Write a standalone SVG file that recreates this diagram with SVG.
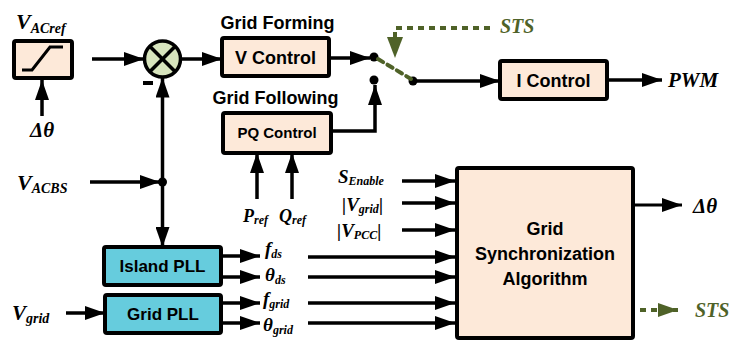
<svg xmlns="http://www.w3.org/2000/svg" width="732" height="340" viewBox="0 0 732 340">
<style>
.box{fill:#FDE9D9;stroke:#000;stroke-width:4}
.pll{fill:#66CCDD;stroke:#000;stroke-width:4}
.lbl{font-family:"Liberation Sans",Arial,sans-serif;font-weight:bold;fill:#000;text-anchor:middle}
.m{font-family:"Liberation Serif","Times New Roman",serif;font-weight:bold;font-style:italic;fill:#000}
.g{fill:#4F6228}
.w{stroke:#000;stroke-width:3.5;fill:none}
.wa{stroke:#000;stroke-width:3.5;fill:none;marker-end:url(#ah)}
.da{stroke:#4F6228;stroke-width:4;fill:none;stroke-dasharray:6 5}
</style>
<defs>
<marker id="ah" markerUnits="userSpaceOnUse" markerWidth="20" markerHeight="14" refX="20" refY="7" orient="auto">
<path d="M0,0 L20,7 L0,14 z" fill="#000"/>
</marker>
<marker id="ahg" markerUnits="userSpaceOnUse" markerWidth="20" markerHeight="14" refX="20" refY="7" orient="auto">
<path d="M0,0 L20,7 L0,14 z" fill="#4F6228"/>
</marker>
</defs>
<rect width="732" height="340" fill="#fff"/>

<g id="limiter">
<rect x="14" y="41" width="58" height="37" rx="2" class="box"/>
<polyline points="22,70 32,70 50,47 63,47" fill="none" stroke="#000" stroke-width="3"/>
</g>
<g id="sum">
<circle cx="162.5" cy="59" r="18" fill="#D7E4BD" stroke="#000" stroke-width="3.5"/>
<line x1="150" y1="46.5" x2="175" y2="71.5" stroke="#000" stroke-width="3.5"/>
<line x1="175" y1="46.5" x2="150" y2="71.5" stroke="#000" stroke-width="3.5"/>
<line x1="143" y1="83" x2="153" y2="83" stroke="#000" stroke-width="4"/>
</g>
<g id="vcontrol">
<rect x="222" y="38" width="107" height="38" rx="2" class="box"/>
<text x="275.5" y="64" class="lbl" font-size="18">V Control</text>
<text x="277.5" y="29" class="lbl" font-size="18">Grid Forming</text>
</g>
<g id="pqcontrol">
<rect x="223" y="113" width="108" height="40" rx="2" class="box"/>
<text x="277" y="138" class="lbl" font-size="15">PQ Control</text>
<text x="275.5" y="104" class="lbl" font-size="18">Grid Following</text>
</g>
<g id="switch">
<circle cx="374" cy="57" r="4.5" fill="#000"/>
<circle cx="374" cy="80" r="4.5" fill="#000"/>
<circle cx="413" cy="81" r="4.5" fill="#000"/>
</g>
<g id="icontrol">
<rect x="500" y="61" width="107" height="38" rx="2" class="box"/>
<text x="553.5" y="87" class="lbl" font-size="18">I Control</text>
</g>
<g id="islandpll">
<rect x="104" y="247" width="117" height="38" rx="2" class="pll"/>
<text x="162.5" y="272" class="lbl" font-size="17">Island PLL</text>
</g>
<g id="gridpll">
<rect x="105" y="295" width="116" height="38" rx="2" class="pll"/>
<text x="163" y="320" class="lbl" font-size="17">Grid PLL</text>
</g>
<g id="gsa">
<rect x="457" y="168" width="176" height="170" rx="2" class="box"/>
<text x="545" y="235" class="lbl" font-size="18">Grid</text>
<text x="545" y="260" class="lbl" font-size="18">Synchronization</text>
<text x="545" y="285" class="lbl" font-size="18">Algorithm</text>
</g>

<g id="connectors">
<line x1="42" y1="116" x2="42" y2="80" class="wa"/>
<line x1="92" y1="59" x2="144" y2="59" class="wa"/>
<line x1="181" y1="59" x2="222" y2="59" class="wa"/>
<line x1="329" y1="58" x2="370" y2="58" class="wa"/>
<line x1="162.5" y1="182" x2="162.5" y2="77.5" class="wa"/>
<line x1="162.5" y1="182" x2="162.5" y2="247" class="wa"/>
<line x1="90" y1="182" x2="160" y2="182" class="wa"/>
<circle cx="162.5" cy="182" r="4.5" fill="#000"/>
<line x1="66" y1="313" x2="105" y2="313" class="wa"/>
<polyline points="331,131 375,131 375,85" class="wa"/>
<line x1="257" y1="199" x2="257" y2="153" class="wa"/>
<line x1="292" y1="199" x2="292" y2="153" class="wa"/>
<line x1="413" y1="81" x2="500" y2="81" class="wa"/>
<line x1="607" y1="80" x2="662" y2="80" class="wa"/>
<line x1="378" y1="59" x2="411" y2="79" class="da" stroke-linecap="round"/>
<polyline points="490,28 395,28 395,38" class="da"/>
<polygon points="387,37 403,37 395,58" class="g"/>
<line x1="221" y1="256" x2="260" y2="256" class="wa"/>
<line x1="221" y1="277" x2="260" y2="277" class="wa"/>
<line x1="221" y1="303" x2="260" y2="303" class="wa"/>
<line x1="221" y1="323" x2="260" y2="323" class="wa"/>
<line x1="402" y1="181" x2="455" y2="181" class="wa"/>
<line x1="402" y1="203" x2="455" y2="203" class="wa"/>
<line x1="402" y1="230" x2="455" y2="230" class="wa"/>
<line x1="308" y1="257" x2="455" y2="257" class="wa"/>
<line x1="308" y1="277" x2="455" y2="277" class="wa"/>
<line x1="308" y1="303" x2="455" y2="303" class="wa"/>
<line x1="308" y1="323" x2="455" y2="323" class="wa"/>
<line x1="635" y1="205" x2="682" y2="205" stroke="#000" stroke-width="3" marker-end="url(#ahg)" style="marker-end:url(#ah)"/>
<line x1="640" y1="310" x2="678" y2="310" stroke="#4F6228" stroke-width="4" stroke-dasharray="6 5" marker-end="url(#ahg)"/>
</g>

<g id="labels">
<text x="16" y="29" class="m" font-size="22">V<tspan font-size="14" dy="4">ACref</tspan></text>
<text x="30" y="137" class="m" font-size="21">Δθ</text>
<text x="17" y="190" class="m" font-size="22">V<tspan font-size="14" dy="3">ACBS</tspan></text>
<text x="12" y="320" class="m" font-size="21">V<tspan font-size="14" dy="3">grid</tspan></text>
<text x="243" y="222" class="m" font-size="18">P<tspan font-size="12" dy="2">ref</tspan></text>
<text x="279" y="222" class="m" font-size="18">Q<tspan font-size="12" dy="2">ref</tspan></text>
<text x="338" y="183" class="m" font-size="19">S<tspan font-size="12" dy="2">Enable</tspan></text>
<text x="342" y="211" class="m" font-size="19">|V<tspan font-size="12" dy="2">grid</tspan><tspan dy="-2">|</tspan></text>
<text x="337" y="237" class="m" font-size="19">|V<tspan font-size="12" dy="2">PCC</tspan><tspan dy="-2">|</tspan></text>
<text x="265" y="255" class="m" font-size="19">f<tspan font-size="12" dy="3">ds</tspan></text>
<text x="265" y="281" class="m" font-size="19">θ<tspan font-size="12" dy="3">ds</tspan></text>
<text x="263" y="305" class="m" font-size="19">f<tspan font-size="12" dy="3">grid</tspan></text>
<text x="263" y="331" class="m" font-size="19">θ<tspan font-size="12" dy="3">grid</tspan></text>
<text x="668" y="87" class="m" font-size="21">PWM</text>
<text x="500" y="33" class="m g" font-size="20">STS</text>
<text x="693" y="213" class="m" font-size="21">Δθ</text>
<text x="695" y="317" class="m g" font-size="20">STS</text>
</g>
</svg>
